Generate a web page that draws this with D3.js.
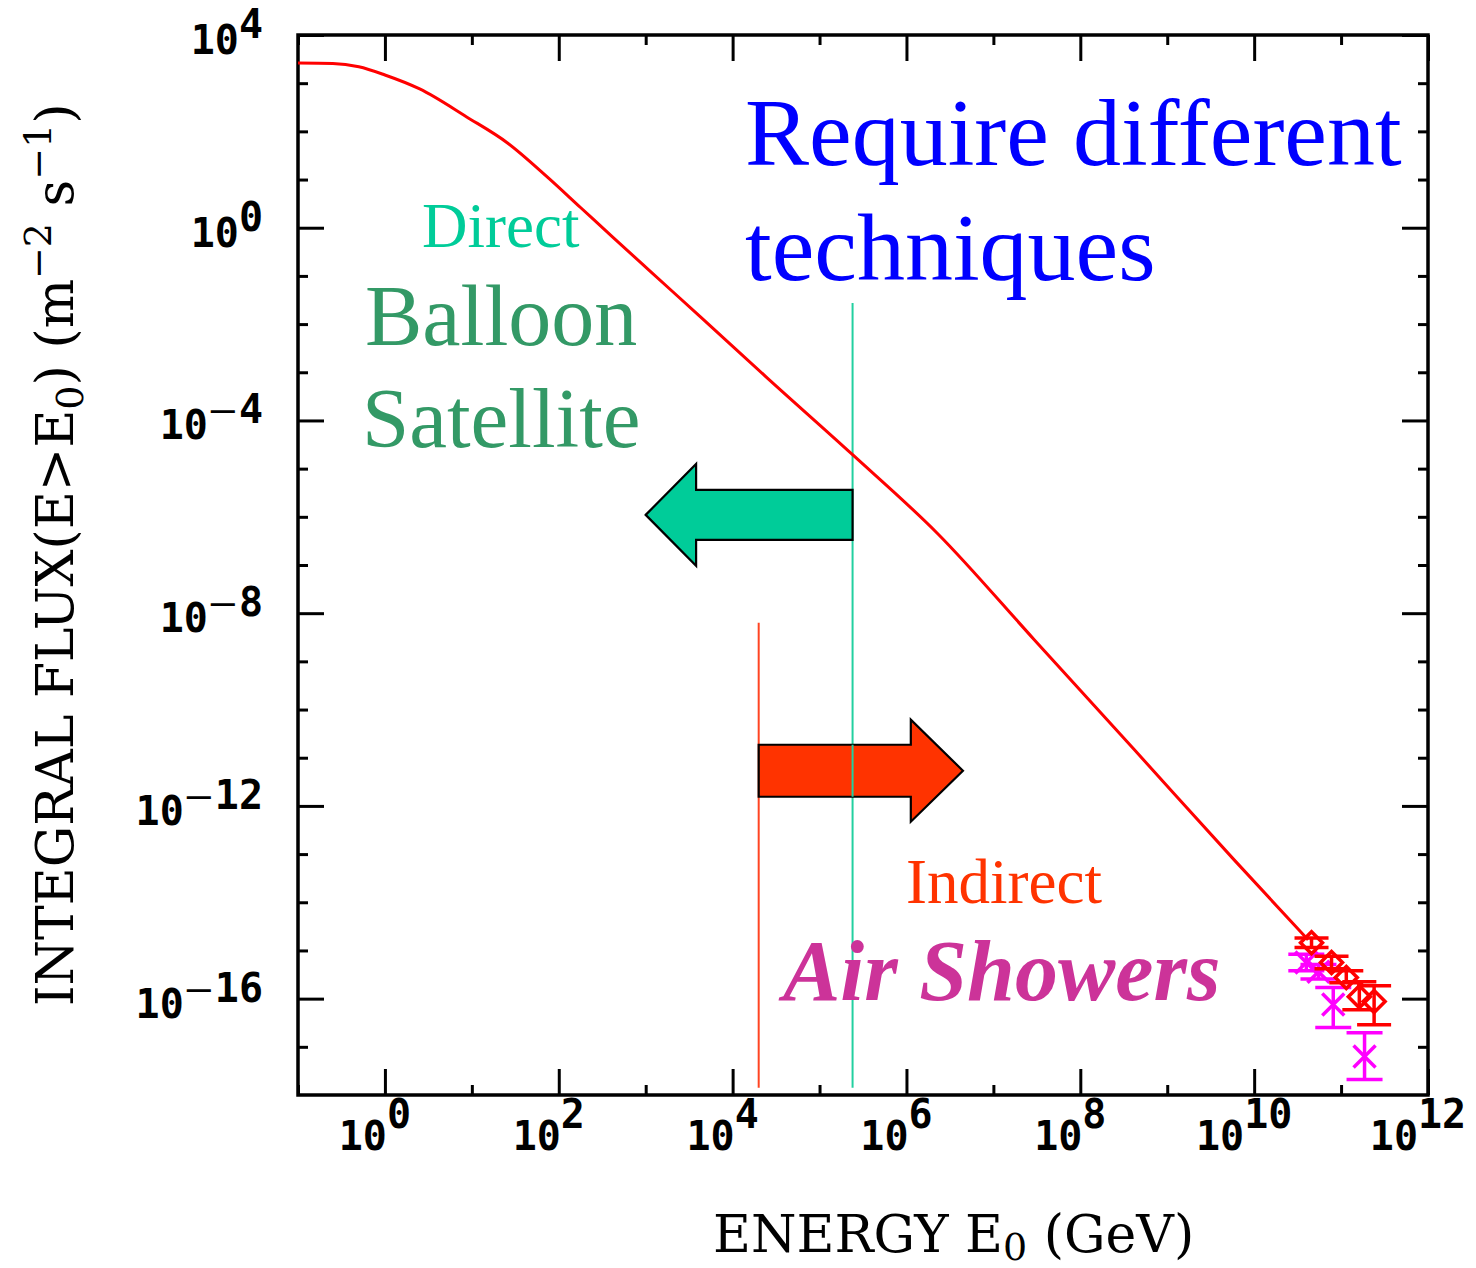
<!DOCTYPE html>
<html>
<head>
<meta charset="utf-8">
<script src="https://cdn.jsdelivr.net/npm/d3@7"></script>
<style>
  body { margin: 0; background: #fff; }
  svg { display: block; }
</style>
</head>
<body>
<svg id="chart" width="1476" height="1268"></svg>
<script>
// Integral cosmic-ray flux above E0: log10(E0 / GeV) and log10(flux / m^-2 s^-1)
const curveLogE = [-1.0, -0.6, -0.3, 0.0, 0.4, 0.94, 1.41, 1.87, 2.25, 2.63, 3.05, 3.63, 4.40, 5.38, 6.36, 7.47, 8.62, 9.77, 10.62];
const curveLogF = [3.42, 3.41, 3.34, 3.17, 2.88, 2.30, 1.76, 1.05, 0.42, -0.21, -0.90, -1.85, -3.12, -4.71, -6.35, -8.55, -10.83, -13.12, -14.78];

// Air-shower measurements at the highest energies (log10 values, with error-bar ends)
const diamondLogE = [10.66, 10.89, 11.06, 11.21, 11.38];
const diamondLogF = [-14.84, -15.25, -15.56, -15.96, -16.06];
const diamondHi   = [-14.74, -15.12, -15.42, -15.65, -15.73];
const diamondLo   = [-14.94, -15.38, -15.67, -16.23, -16.54];

const crossLogE = [10.60, 10.74, 10.91, 11.27];
const crossLogF = [-15.25, -15.44, -16.12, -17.20];
const crossHi   = [-15.08, -15.29, -15.77, -16.71];
const crossLo   = [-15.42, -15.59, -16.60, -17.68];

// Axis ticks (decade exponents) and their labels
const xMajorExp = [0, 2, 4, 6, 8, 10, 12];
const xMinorExp = [-1, 1, 3, 5, 7, 9, 11];
const xTickLabels = ["0", "2", "4", "6", "8", "10", "12"];
const yMajorExp = [4, 0, -4, -8, -12, -16];
const yMinorExp = [3, 2, 1, -1, -2, -3, -5, -6, -7, -9, -10, -11, -13, -14, -15, -17];
const yTickLabels = ["4", "0", "-4", "-8", "-12", "-16"];

// Detection-technique boundaries (log10 E0) and the extent of each marker line (log10 flux)
const directLimitLogE = 5.38;
const directLineLogF = [-1.56, -17.85];
const indirectLimitLogE = 4.30;
const indirectLineLogF = [-8.2, -17.85];

// Block arrows: [tip, neck, tail] in log10 E0, and the level they sit at in log10 flux
const directArrowLogE = [3.0, 3.58, directLimitLogE];
const directArrowLogF = -5.96;
const indirectArrowLogE = [6.65, 6.05, indirectLimitLogE];
const indirectArrowLogF = -11.27;

const plot = { left: 298, right: 1428, top: 35, bottom: 1095 };
const x = d3.scaleLog().domain([1e-1, 1e12]).range([plot.left, plot.right]);
const y = d3.scaleLog().domain([1e-18, 1e4]).range([plot.bottom, plot.top]);
const px = e => x(Math.pow(10, e));
const py = f => y(Math.pow(10, f));

const svg = d3.select("#chart");

// ---- tick marks on all four sides, pointing inward ----
function ticks(axisFn, values, size, transform) {
  const g = svg.append("g")
    .attr("transform", transform)
    .call(axisFn.tickValues(values.map(v => Math.pow(10, v))).tickSize(-size).tickFormat(""));
  g.select(".domain").remove();
  g.selectAll(".tick line").attr("stroke", "#000").attr("stroke-width", 3);
}
const majorLen = 26, minorLen = 10;
ticks(d3.axisBottom(x), xMajorExp, majorLen, `translate(0,${plot.bottom})`);
ticks(d3.axisBottom(x), xMinorExp, minorLen, `translate(0,${plot.bottom})`);
ticks(d3.axisTop(x), xMajorExp, majorLen, `translate(0,${plot.top})`);
ticks(d3.axisTop(x), xMinorExp, minorLen, `translate(0,${plot.top})`);
ticks(d3.axisLeft(y), yMajorExp, majorLen, `translate(${plot.left},0)`);
ticks(d3.axisLeft(y), yMinorExp, minorLen, `translate(${plot.left},0)`);
ticks(d3.axisRight(y), yMajorExp, majorLen, `translate(${plot.right},0)`);
ticks(d3.axisRight(y), yMinorExp, minorLen, `translate(${plot.right},0)`);

svg.append("rect")
  .attr("x", plot.left).attr("y", plot.top)
  .attr("width", plot.right - plot.left).attr("height", plot.bottom - plot.top)
  .attr("fill", "none").attr("stroke", "#000").attr("stroke-width", 3.5);

// ---- tick labels: 10 with a raised exponent ----
const tickFont = "'DejaVu Sans Mono', monospace";
const xLab = svg.append("g").attr("font-family", tickFont).attr("font-weight", "bold")
  .attr("font-size", 40).attr("fill", "#000");
xMajorExp.forEach((e, i) => {
  const t = xLab.append("text").attr("x", px(e) - 10).attr("y", 1150).attr("text-anchor", "middle");
  t.append("tspan").text("10");
  t.append("tspan").attr("dy", -22).text(xTickLabels[i]);
});
const yLab = svg.append("g").attr("font-family", tickFont).attr("font-weight", "bold")
  .attr("font-size", 40).attr("fill", "#000");
yMajorExp.forEach((e, i) => {
  const t = yLab.append("text").attr("x", 263).attr("y", py(e) + 19).attr("text-anchor", "end");
  t.append("tspan").text("10");
  const lab = yTickLabels[i];
  if (lab.startsWith("-")) {
    // long, thin dash for negative exponents
    t.append("tspan").attr("dy", -16).attr("dx", 3).attr("font-weight", "normal").text("\u2014");
    t.append("tspan").attr("dx", 4).text(lab.slice(1));
  } else {
    t.append("tspan").attr("dy", -16).text(lab);
  }
});

// ---- axis titles ----
const titleFont = "'DejaVu Serif', serif";
const xt = svg.append("text").attr("x", 713).attr("y", 1252)
  .attr("font-family", titleFont).attr("font-size", 52).attr("fill", "#000");
xt.append("tspan").text("ENERGY E");
xt.append("tspan").attr("font-size", 38).attr("dy", 8).text("0");
xt.append("tspan").attr("dy", -8).text("\u00a0(GeV)");

const yt = svg.append("text").attr("transform", "translate(73,1006) rotate(-90)")
  .attr("font-family", titleFont).attr("font-size", 52).attr("fill", "#000");
yt.append("tspan").text("INTEGRAL FLUX(E>E");
yt.append("tspan").attr("font-size", 38).attr("dy", 10).text("0");
yt.append("tspan").attr("dy", -10).text(")\u00a0(m");
yt.append("tspan").attr("font-size", 38).attr("dy", -22).text("\u22122");
yt.append("tspan").attr("dy", 22).text("\u00a0s");
yt.append("tspan").attr("font-size", 38).attr("dy", -22).text("\u22121");
yt.append("tspan").attr("dy", 22).text(")");

// ---- technique boundary lines ----
svg.append("line")
  .attr("x1", px(directLimitLogE)).attr("x2", px(directLimitLogE))
  .attr("y1", py(directLineLogF[0])).attr("y2", py(directLineLogF[1]))
  .attr("stroke", "#22d0a0").attr("stroke-width", 2);
svg.append("line")
  .attr("x1", px(indirectLimitLogE)).attr("x2", px(indirectLimitLogE))
  .attr("y1", py(indirectLineLogF[0])).attr("y2", py(indirectLineLogF[1]))
  .attr("stroke", "#ff4422").attr("stroke-width", 2);

// ---- spectrum curve ----
const curvePts = curveLogE.map((e, i) => [e, curveLogF[i]]);
svg.append("path")
  .datum(curvePts)
  .attr("d", d3.line().x(d => px(d[0])).y(d => py(d[1])).curve(d3.curveMonotoneX))
  .attr("fill", "none").attr("stroke", "#ff0000").attr("stroke-width", 3);

// ---- block arrows ----
function blockArrow(logEs, logF, shaftHalf, headHalf, fill) {
  const [tip, neck, tail] = logEs.map(px);
  const cy = py(logF);
  const pts = [
    [tip, cy], [neck, cy - headHalf], [neck, cy - shaftHalf], [tail, cy - shaftHalf],
    [tail, cy + shaftHalf], [neck, cy + shaftHalf], [neck, cy + headHalf]
  ];
  svg.append("polygon")
    .attr("points", pts.map(p => p.join(",")).join(" "))
    .attr("fill", fill).attr("stroke", "#000").attr("stroke-width", 2.2)
    .attr("stroke-linejoin", "miter");
}
blockArrow(directArrowLogE, directArrowLogF, 25, 51, "#00cc99");
blockArrow(indirectArrowLogE, indirectArrowLogF, 26, 51, "#ff3300");

// the direct-limit line runs across the red arrow
svg.append("line")
  .attr("x1", px(directLimitLogE)).attr("x2", px(directLimitLogE))
  .attr("y1", py(indirectArrowLogF) - 26).attr("y2", py(indirectArrowLogF) + 26)
  .attr("stroke", "#22d0a0").attr("stroke-width", 2);

// ---- measurement points with error bars ----
function errorBars(logE, logF, hi, lo, color, capHalf, symbol) {
  const g = svg.append("g").attr("stroke", color).attr("stroke-width", 3.5).attr("fill", "none");
  logE.forEach((e, i) => {
    const cx = px(e), cy = py(logF[i]), yt = py(hi[i]), yb = py(lo[i]);
    g.append("line").attr("x1", cx).attr("x2", cx).attr("y1", yt).attr("y2", yb);
    g.append("line").attr("x1", cx - capHalf).attr("x2", cx + capHalf).attr("y1", yt).attr("y2", yt);
    g.append("line").attr("x1", cx - capHalf).attr("x2", cx + capHalf).attr("y1", yb).attr("y2", yb);
    g.append("path").attr("d", symbol(cx, cy));
  });
}
const diamond = (cx, cy) => `M${cx - 11},${cy}L${cx},${cy - 11}L${cx + 11},${cy}L${cx},${cy + 11}Z`;
const cross = (cx, cy) => `M${cx - 11},${cy - 11}L${cx + 11},${cy + 11}M${cx - 11},${cy + 11}L${cx + 11},${cy - 11}`;
errorBars(crossLogE, crossLogF, crossHi, crossLo, "#ff00ff", 18, cross);
errorBars(diamondLogE, diamondLogF, diamondHi, diamondLo, "#ff0000", 17, diamond);

// ---- annotations ----
const serif = "'Liberation Serif', 'Times New Roman', serif";
function label(txt, xPos, yPos, size, color, opts = {}) {
  svg.append("text").attr("x", xPos).attr("y", yPos)
    .attr("font-family", serif).attr("font-size", size).attr("fill", color)
    .attr("font-weight", opts.weight || "normal").attr("font-style", opts.style || "normal")
    .text(txt);
}
label("Require different", 745, 165, 96, "#0000ff");
label("techniques", 745, 280, 96, "#0000ff");
label("Direct", 422, 247, 63, "#00cc99");
label("Balloon", 365, 345, 86, "#339966");
label("Satellite", 362, 447, 85, "#339966");
label("Indirect", 906, 903, 63, "#ff3300");
label("Air Showers", 783, 1000, 86, "#cc3399", { weight: "bold", style: "italic" });
</script>
</body>
</html>
